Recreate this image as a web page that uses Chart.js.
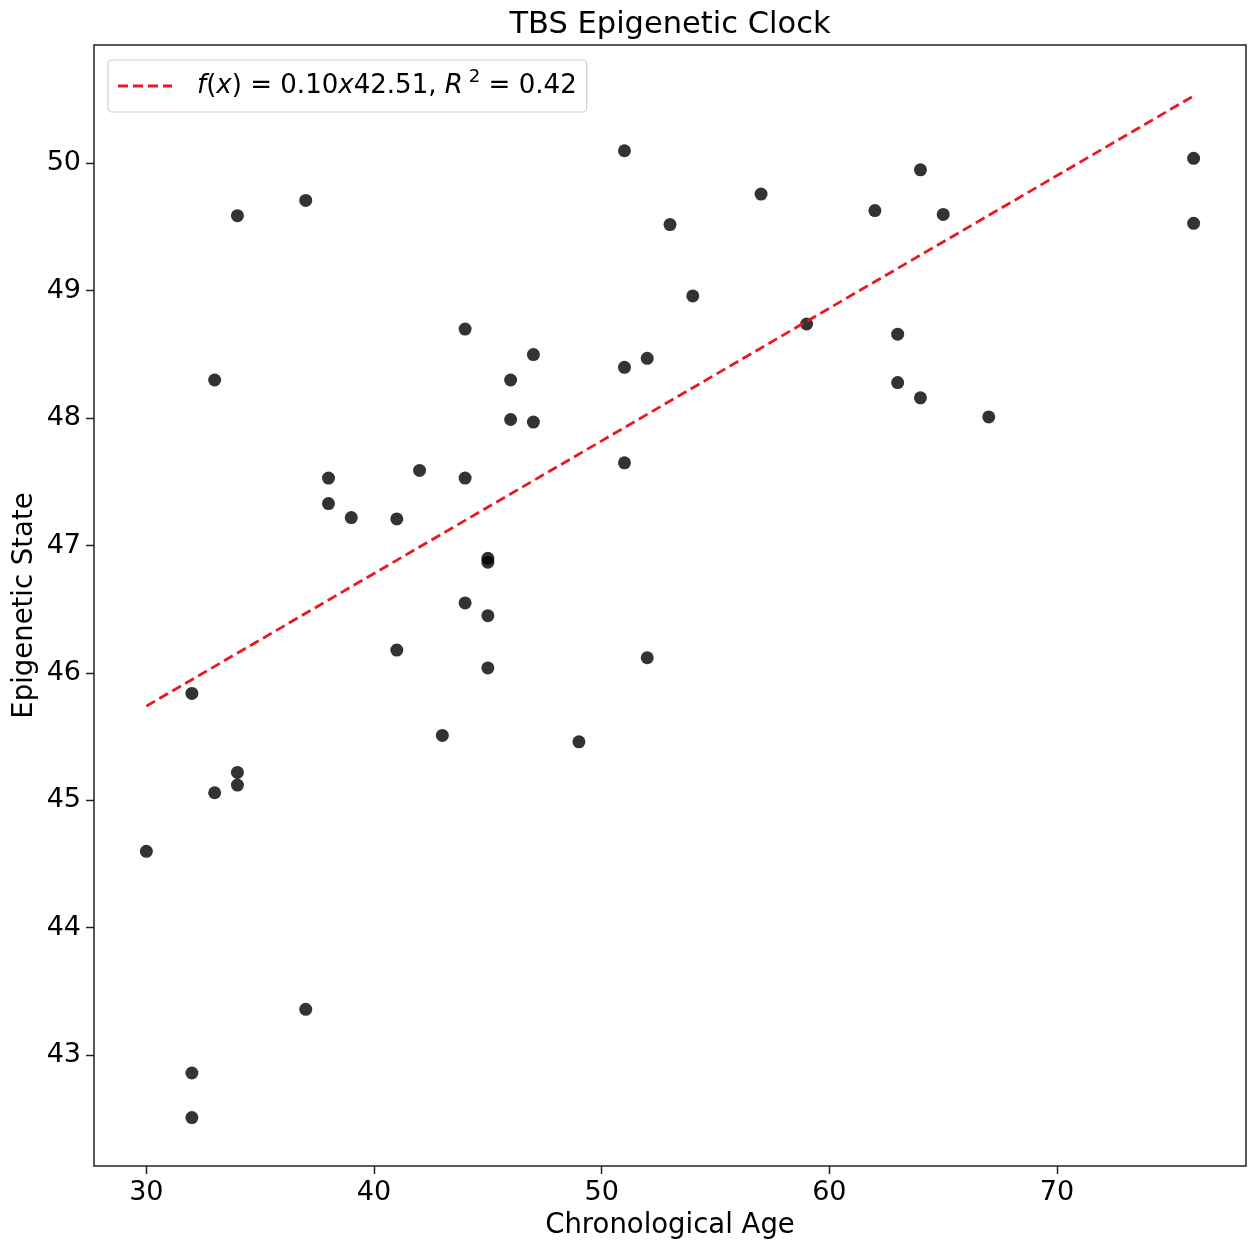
<!DOCTYPE html>
<html>
<head>
<meta charset="utf-8">
<script src="https://cdn.jsdelivr.net/npm/chart.js@4.4.1/dist/chart.umd.min.js"></script>
<style>
  body { margin: 0; background: #fff; }
  #wrap { width: 1253px; height: 1243px; }
</style>
</head>
<body>
<div id="wrap"><canvas id="chart" width="1253" height="1243"></canvas></div>
<script>
// chronological age vs epigenetic state
const ages = [30, 32, 32, 32, 33, 33, 34, 34, 34, 37, 37, 38, 38, 39, 41, 41, 42, 43, 44, 44, 44, 45, 45, 45,
  45, 46, 46, 47, 47, 49, 51, 51, 51, 52, 52, 53, 54, 57, 59, 62, 63, 63, 64, 64, 65, 67, 76, 76];
const states = [44.60, 45.84, 42.86, 42.51, 48.30, 45.06, 49.59, 45.22, 45.12, 49.71, 43.36, 47.53, 47.33, 47.22,
  47.21, 46.18, 47.59, 45.51, 48.70, 47.53, 46.55, 46.90, 46.87, 46.45, 46.04, 48.30, 47.99, 48.50, 47.97,
  45.46, 50.10, 48.40, 47.65, 48.47, 46.12, 49.52, 48.96, 49.76, 48.74, 49.63, 48.66, 48.28, 49.95, 48.16,
  49.60, 48.01, 50.04, 49.53];

// fitted line end points
const fitX = [30, 76];
const fitY = [45.74, 50.53];

const xTicks = [30, 40, 50, 60, 70];
const yTicks = [43, 44, 45, 46, 47, 48, 49, 50];

const FONT = '"DejaVu Sans", sans-serif';

// legend text pieces: [text, italic, superscript]
const legendParts = [
  ['f', true], ['(', false], ['x', true], [')', false], [' = ', false], ['0.10', false], ['x', true],
  ['42.51, ', false], ['R', true], [' 2', false, true], [' = 0.42', false]
];

function fontOf(size, italic) {
  return (italic ? 'oblique ' : '') + size + 'px ' + FONT;
}

const decorations = {
  id: 'decorations',
  afterDraw(chart) {
    const ctx = chart.ctx;
    const a = chart.chartArea;
    ctx.save();

    // frame round the plot
    ctx.strokeStyle = '#222';
    ctx.lineWidth = 1.5;
    ctx.strokeRect(a.left, a.top, a.right - a.left, a.bottom - a.top);

    // title
    ctx.fillStyle = '#000';
    ctx.font = '30.5px ' + FONT;
    ctx.textAlign = 'center';
    ctx.textBaseline = 'middle';
    ctx.fillText('TBS Epigenetic Clock', (a.left + a.right) / 2, 25);

    // legend
    const bx = a.left + 14, by = a.top + 15, bh = 52;
    let size = 26;
    const measure = (s) => legendParts.reduce((w, p) => {
      ctx.font = fontOf(p[2] ? s * 0.7 : s, p[1]);
      return w + ctx.measureText(p[0]).width;
    }, 0);
    size = size * 380 / measure(size);
    const textW = measure(size);
    const bw = 10 + 54 + 25 + textW + 10;
    ctx.beginPath();
    ctx.roundRect(bx, by, bw, bh, 4);
    ctx.fillStyle = 'rgba(255,255,255,0.8)';
    ctx.fill();
    ctx.strokeStyle = '#d0d0d0';
    ctx.lineWidth = 1.2;
    ctx.stroke();

    const cy = by + bh / 2;
    ctx.beginPath();
    ctx.setLineDash([10, 5]);
    ctx.strokeStyle = '#e8191f';
    ctx.lineWidth = 2.8;
    ctx.moveTo(bx + 10, cy);
    ctx.lineTo(bx + 64, cy);
    ctx.stroke();
    ctx.setLineDash([]);

    let tx = bx + 89;
    ctx.textAlign = 'left';
    ctx.textBaseline = 'middle';
    ctx.fillStyle = '#000';
    legendParts.forEach(p => {
      const s = p[2] ? size * 0.7 : size;
      ctx.font = fontOf(s, p[1]);
      ctx.fillText(p[0], tx, p[2] ? cy - size * 0.35 : cy);
      tx += ctx.measureText(p[0]).width;
    });
    ctx.restore();
  }
};

new Chart(document.getElementById('chart'), {
  type: 'scatter',
  data: {
    datasets: [{
      label: 'samples',
      data: ages.map((x, i) => ({ x: x, y: states[i] })),
      pointRadius: 6.5,
      pointHoverRadius: 6.5,
      backgroundColor: 'rgba(0,0,0,0.8)',
      borderColor: 'rgba(0,0,0,0.8)',
      borderWidth: 0,
      order: 2
    }, {
      label: 'fit',
      type: 'line',
      data: fitX.map((x, i) => ({ x: x, y: fitY[i] })),
      borderColor: '#e8191f',
      borderWidth: 2.8,
      borderDash: [10, 5],
      pointRadius: 0,
      fill: false,
      order: 1
    }]
  },
  options: {
    responsive: false,
    animation: false,
    layout: { padding: { top: 45, right: 7, left: 0, bottom: 0 } },
    plugins: {
      legend: { display: false },
      title: { display: false },
      tooltip: { enabled: false }
    },
    scales: {
      x: {
        type: 'linear',
        min: 27.7,
        max: 78.3,
        afterFit: (s) => { s.height = 77; },
        afterBuildTicks: (s) => { s.ticks = xTicks.map(v => ({ value: v })); },
        border: { display: false },
        grid: { drawOnChartArea: false, drawTicks: true, tickLength: 8, tickColor: '#222', tickWidth: 1.5 },
        ticks: { color: '#000', font: { family: FONT, size: 27 }, padding: 3, maxRotation: 0 },
        title: { display: true, text: 'Chronological Age', color: '#000', font: { family: FONT, size: 27.5 }, padding: { top: 0, bottom: 1 } }
      },
      y: {
        type: 'linear',
        min: 42.13,
        max: 50.93,
        afterFit: (s) => { s.width = 94; },
        afterBuildTicks: (s) => { s.ticks = yTicks.map(v => ({ value: v })); },
        border: { display: false },
        grid: { drawOnChartArea: false, drawTicks: true, tickLength: 8, tickColor: '#222', tickWidth: 1.5 },
        ticks: { color: '#000', font: { family: FONT, size: 27 }, padding: 5 },
        title: { display: true, text: 'Epigenetic State', color: '#000', font: { family: FONT, size: 27.5 }, padding: { top: 8, bottom: 0 } }
      }
    }
  },
  plugins: [decorations]
});
</script>
</body>
</html>
